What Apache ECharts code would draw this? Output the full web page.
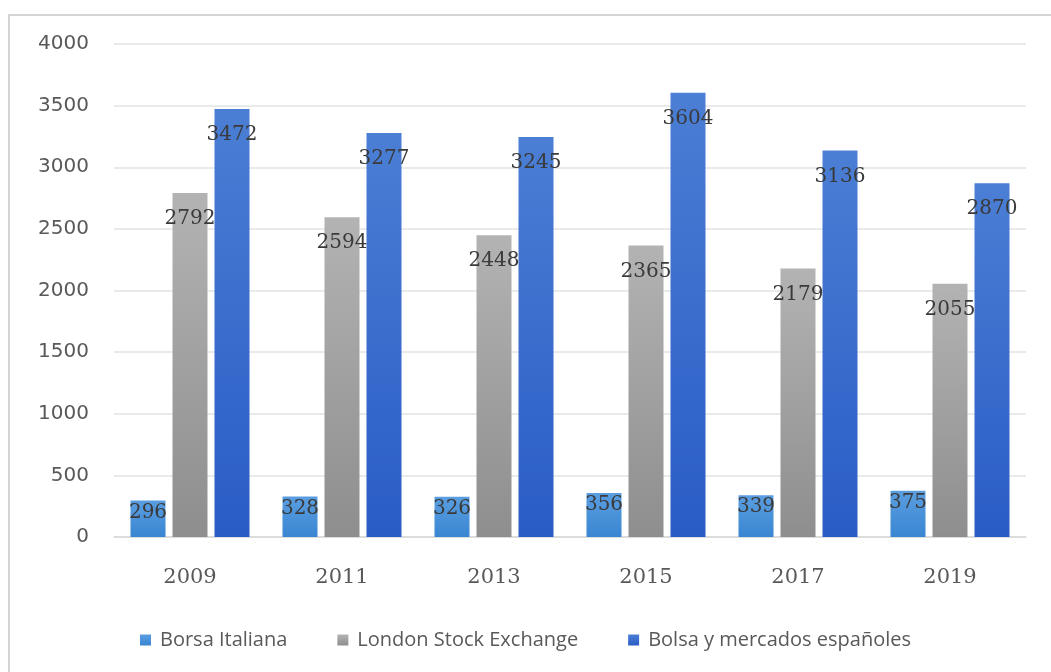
<!DOCTYPE html>
<html>
<head>
<meta charset="utf-8">
<script src="https://cdn.jsdelivr.net/npm/echarts@6/dist/echarts.min.js"></script>
<style>
    html, body { margin: 0; padding: 0; background: #fff; }
    #chart { width: 1051px; height: 672px; }
</style>
</head>
<body>
<div id="chart"></div>
<script>
    var years = ['2009', '2011', '2013', '2015', '2017', '2019'];
    var borsaItaliana = [296, 328, 326, 356, 339, 375];
    var londonStockExchange = [2792, 2594, 2448, 2365, 2179, 2055];
    var bolsaEspanoles = [3472, 3277, 3245, 3604, 3136, 2870];
    var seriesNames = ['Borsa Italiana', 'London Stock Exchange', 'Bolsa y mercados españoles'];
    var yTicks = [0, 500, 1000, 1500, 2000, 2500, 3000, 3500, 4000];

    // gradiente vertical como en Excel
    function grad(top, bottom) {
        return new echarts.graphic.LinearGradient(0, 0, 0, 1, [
            {offset: 0, color: top},
            {offset: 1, color: bottom}
        ]);
    }

    var labelStyle = {
        show: true,
        position: 'insideTop',
        color: '#3a3a3a',
        fontFamily: 'DejaVu Serif, Liberation Serif, serif',
        fontSize: 20
    };

    var chart = echarts.init(document.getElementById('chart'));
    chart.setOption({
        animation: false,
        graphic: [{
            type: 'rect',
            shape: {x: 9, y: 15, width: 1100, height: 700},
            style: {fill: 'none', stroke: '#d4d4d4', lineWidth: 2},
            silent: true,
            z: -1
        }],
        grid: {left: 114, right: 25, top: 44, bottom: 135},
        legend: {
            bottom: 17,
            left: 'center',
            itemWidth: 11,
            itemHeight: 11,
            itemGap: 50,
            icon: 'rect',
            textStyle: {
                color: '#595959',
                fontSize: 20,
                padding: [0, 0, 0, 4],
                fontFamily: 'Liberation Sans Narrow, Open Sans, sans-serif'
            },
            data: seriesNames
        },
        xAxis: {
            type: 'category',
            data: years,
            axisTick: {show: false},
            axisLine: {lineStyle: {color: '#d9d9d9', width: 1.5}},
            axisLabel: {
                color: '#595959',
                fontSize: 21,
                fontFamily: 'DejaVu Serif, Liberation Serif, serif',
                margin: 30
            }
        },
        yAxis: {
            type: 'value',
            min: yTicks[0],
            max: yTicks[yTicks.length - 1],
            interval: 500,
            axisLine: {show: false},
            axisTick: {show: false},
            splitLine: {lineStyle: {color: '#e3e3e3', width: 1.5}},
            axisLabel: {
                color: '#595959',
                fontSize: 20,
                fontFamily: 'DejaVu Sans, sans-serif',
                margin: 25,
                formatter: function (v) { return String(v); }
            }
        },
        series: [{
            name: seriesNames[0],
            type: 'bar',
            data: borsaItaliana,
            barWidth: 35,
            barGap: '20%',
            itemStyle: {color: grad('#5a9ee0', '#3a86d2')},
            label: Object.assign({}, labelStyle, {distance: 2})
        }, {
            name: seriesNames[1],
            type: 'bar',
            data: londonStockExchange,
            barWidth: 35,
            barGap: '20%',
            itemStyle: {color: grad('#b3b3b3', '#8e8e8e')},
            label: Object.assign({}, labelStyle, {distance: 16})
        }, {
            name: seriesNames[2],
            type: 'bar',
            data: bolsaEspanoles,
            barWidth: 35,
            barGap: '20%',
            itemStyle: {color: grad('#4b7ed4', '#2a5cc6')},
            label: Object.assign({}, labelStyle, {distance: 16})
        }]
    });
</script>
</body>
</html>
